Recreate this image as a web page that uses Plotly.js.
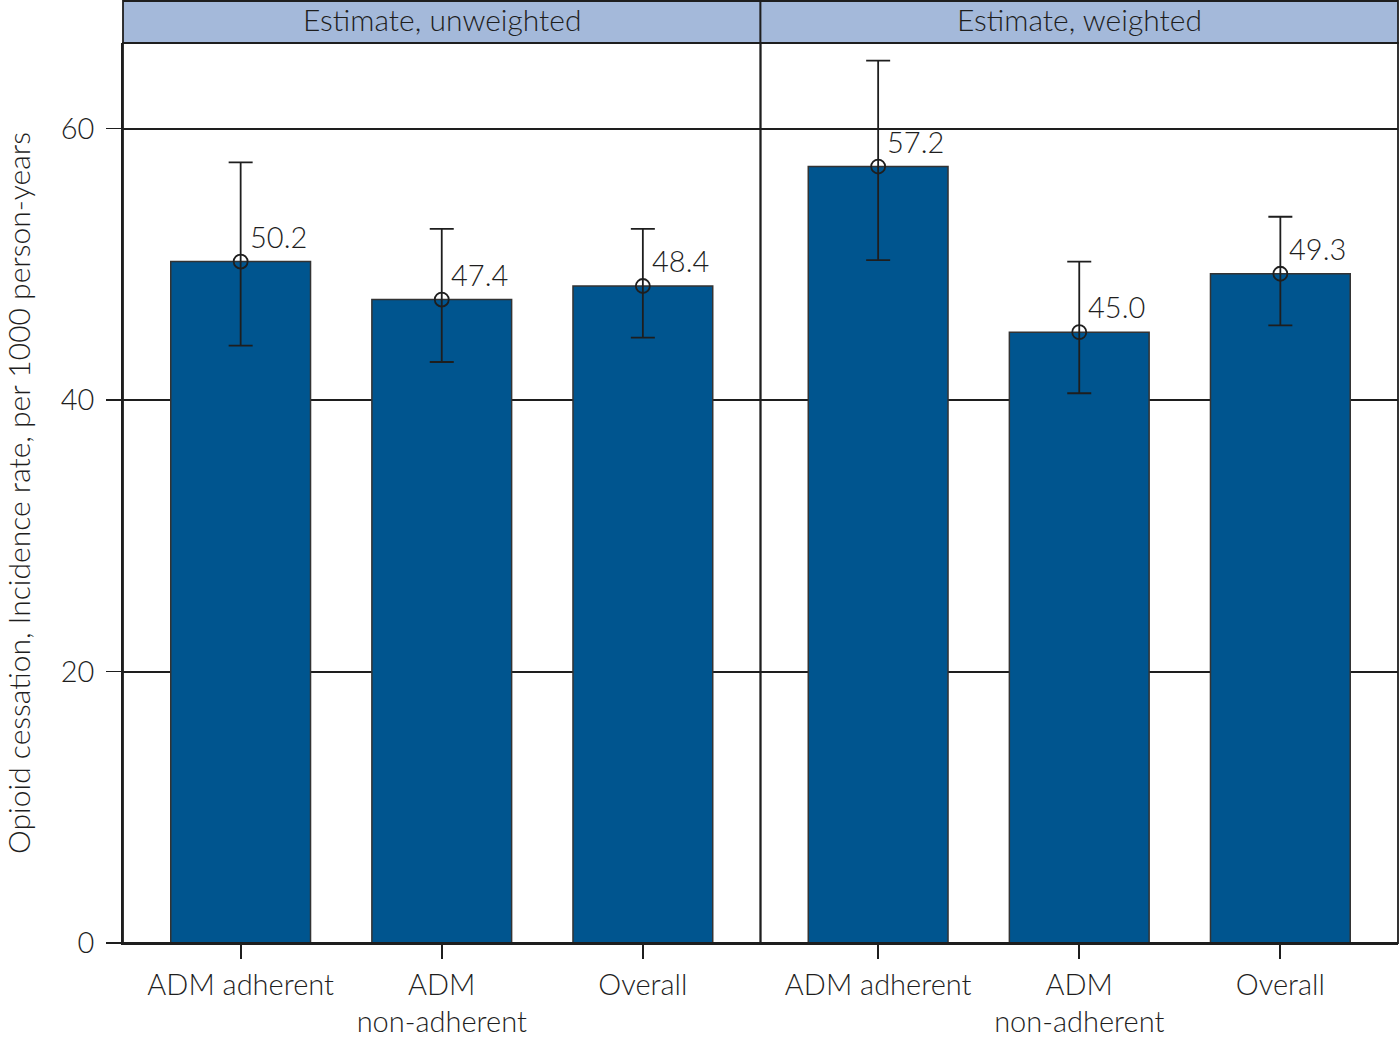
<!DOCTYPE html>
<html>
<head>
<meta charset="utf-8">
<script src="https://cdn.plot.ly/plotly-3.0.1.min.js"></script>
<style>html,body{margin:0;padding:0;background:#fff;}#chart{width:1400px;height:1040px;}</style>
</head>
<body>
<div id="chart"></div>
<script>
const categories = ["ADM adherent", "ADM non-adherent", "Overall"];
const tickLabels = ["ADM adherent", "ADM<br>non-adherent", "Overall"];
const panelTitles = ["Estimate, unweighted", "Estimate, weighted"];
const unweightedRate = [50.2, 47.4, 48.4];
const unweightedUpper = [57.5, 52.6, 52.6];
const unweightedLower = [44.0, 42.8, 44.6];
const weightedRate = [57.2, 45.0, 49.3];
const weightedUpper = [65.0, 50.2, 53.5];
const weightedLower = [50.3, 40.5, 45.5];
const yTicks = [0, 20, 40, 60];

const FONT = "Lato, 'Open Sans', sans-serif";
const W = 300;
const INK = "#1e1e1e";
const BAR = "#00558f";
const STRIP = "#a4b9da";

const annotations = [];

function panel(rates, upper, lower, xa, ya) {
  const bar = {
    type: "bar", x: categories, y: rates, xaxis: xa, yaxis: ya,
    marker: {color: BAR, line: {color: "#333", width: 1.5}},
    width: 0.695, hoverinfo: "skip", showlegend: false
  };
  const pts = {
    type: "scatter", mode: "markers", x: categories, y: rates, xaxis: xa, yaxis: ya,
    marker: {symbol: "circle-open", size: 14, color: INK, line: {width: 1.8, color: INK}},
    error_y: {type: "data", symmetric: false,
      array: upper.map((u, i) => u - rates[i]),
      arrayminus: lower.map((l, i) => rates[i] - l),
      color: INK, thickness: 1.8, width: 12},
    cliponaxis: false, showlegend: false
  };
  rates.forEach((v, i) => {
    annotations.push({xref: xa, yref: ya, x: categories[i], y: v, text: v.toFixed(1),
      showarrow: false, xanchor: "left", yanchor: "bottom", xshift: 7, yshift: 6,
      font: {family: FONT, size: 29, color: INK, weight: W}});
  });
  return [bar, pts];
}

const data = [
  ...panel(unweightedRate, unweightedUpper, unweightedLower, "x", "y"),
  ...panel(weightedRate, weightedUpper, weightedLower, "x2", "y")
];

const xbase = {
  type: "category", range: [-0.585, 2.585], tickmode: "array",
  tickvals: categories, ticktext: tickLabels,
  ticks: "outside", ticklen: 14, tickwidth: 1.8, tickcolor: INK,
  showline: true, linecolor: INK, linewidth: 1.8,
  showgrid: false, zeroline: false, fixedrange: true,
  ticklabelstandoff: 1,
  tickfont: {family: FONT, size: 29, color: INK, weight: W}
};

const shapes = [];
[["x", 0], ["x2", 1]].forEach(([xa, i]) => {
  const xr = xa + " domain";
  shapes.push({type: "rect", xref: xr, yref: "y domain", x0: 0, x1: 1, y0: 0, y1: 1,
    line: {color: INK, width: 1.8}, fillcolor: "rgba(0,0,0,0)", layer: "above"});
  shapes.push({type: "rect", xref: xr, yref: "y domain", x0: 0, x1: 1, y0: 1, y1: 1 + 42 / 900,
    line: {color: INK, width: 1.8}, fillcolor: STRIP, layer: "above"});
  annotations.push({xref: xr, yref: "y domain", x: 0.5, y: 1 + 24 / 900, text: panelTitles[i],
    showarrow: false, xanchor: "center", yanchor: "middle",
    font: {family: FONT, size: 30, color: INK, weight: W}});
});

const layout = {
  width: 1400, height: 1040,
  margin: {l: 123, r: 2, t: 43, b: 97},
  paper_bgcolor: "#fff", plot_bgcolor: "#fff",
  showlegend: false, bargap: 0.3,
  font: {family: FONT, color: INK},
  xaxis: Object.assign({}, xbase, {domain: [0, 0.5], anchor: "y"}),
  xaxis2: Object.assign({}, xbase, {domain: [0.5, 1], anchor: "y"}),
  yaxis: {
    range: [0, 66.3], tickmode: "array", tickvals: yTicks, ticktext: yTicks.map(String),
    ticks: "outside", ticklen: 15, tickwidth: 1.8, tickcolor: INK,
    showline: true, linecolor: INK, linewidth: 1.8,
    showgrid: true, gridcolor: INK, gridwidth: 2, zeroline: false, fixedrange: true,
    ticklabelstandoff: 6,
    tickfont: {family: FONT, size: 29, color: INK, weight: W},
    title: {text: "Opioid cessation, Incidence rate, per 1000 person-years",
      font: {family: FONT, size: 30, color: INK, weight: W}, standoff: 36}
  },
  shapes: shapes,
  annotations: annotations
};

Plotly.newPlot("chart", data, layout, {displayModeBar: false, staticPlot: true});
</script>
</body>
</html>
